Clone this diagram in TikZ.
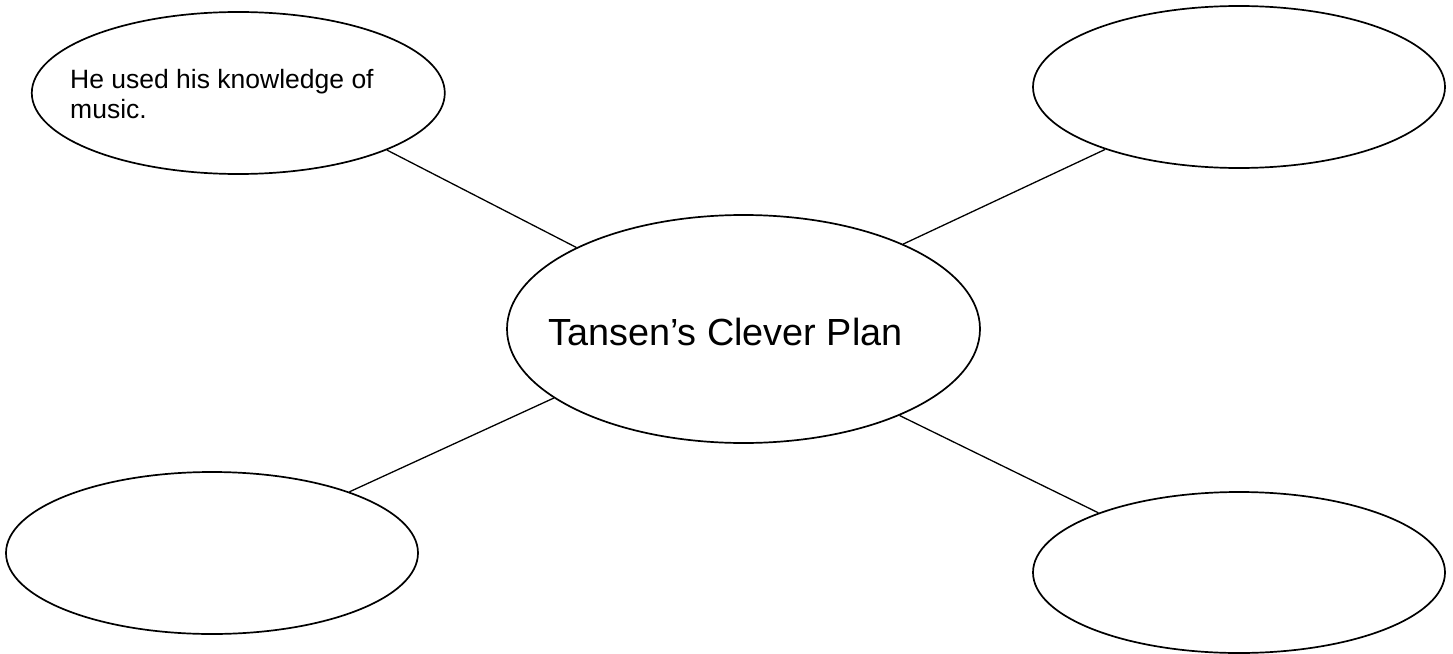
\documentclass[tikz,border=0pt]{standalone}
\usepackage{fontspec}
\setmainfont{Liberation Sans}
\usetikzlibrary{shapes.geometric}
\begin{document}
\begin{tikzpicture}[x=1bp,y=-1bp,
  bubble/.style={draw=black, line width=1.7bp, ellipse, inner sep=0pt},
  link/.style={draw=black, line width=1.3bp},
  small/.style={font=\fontsize{26.5bp}{30bp}\selectfont, inner sep=0pt, align=left},
  big/.style={font=\fontsize{37.8bp}{44bp}\selectfont, inner sep=0pt}]
\useasboundingbox (0,0) rectangle (1453,654);
\fill[white] (0,0) rectangle (1453,654);
\node[bubble, minimum width=413bp, minimum height=162bp] (tl) at (238.3,93) {};
\node[bubble, minimum width=412bp, minimum height=162bp] (tr) at (1239,87) {};
\node[bubble, minimum width=473bp, minimum height=228bp] (c) at (743.5,329) {};
\node[bubble, minimum width=412bp, minimum height=162bp] (bl) at (212,553) {};
\node[bubble, minimum width=412bp, minimum height=161bp] (br) at (1239,572.5) {};
\node[small, anchor=base west] (tltext) at (70,118.5) {He used his knowledge of\\music.};
\node[big, anchor=base west] (ctext) at (548,345) {Tansen’s Clever Plan};
\draw[link] (tl.-21.4) -- (c.154.2);
\draw[link] (tr.-155.5) -- (c.28.8);
\draw[link] (bl.24.5) -- (c.-160.6);
\draw[link] (br.157.6) -- (c.-29.1);
\end{tikzpicture}
\end{document}
